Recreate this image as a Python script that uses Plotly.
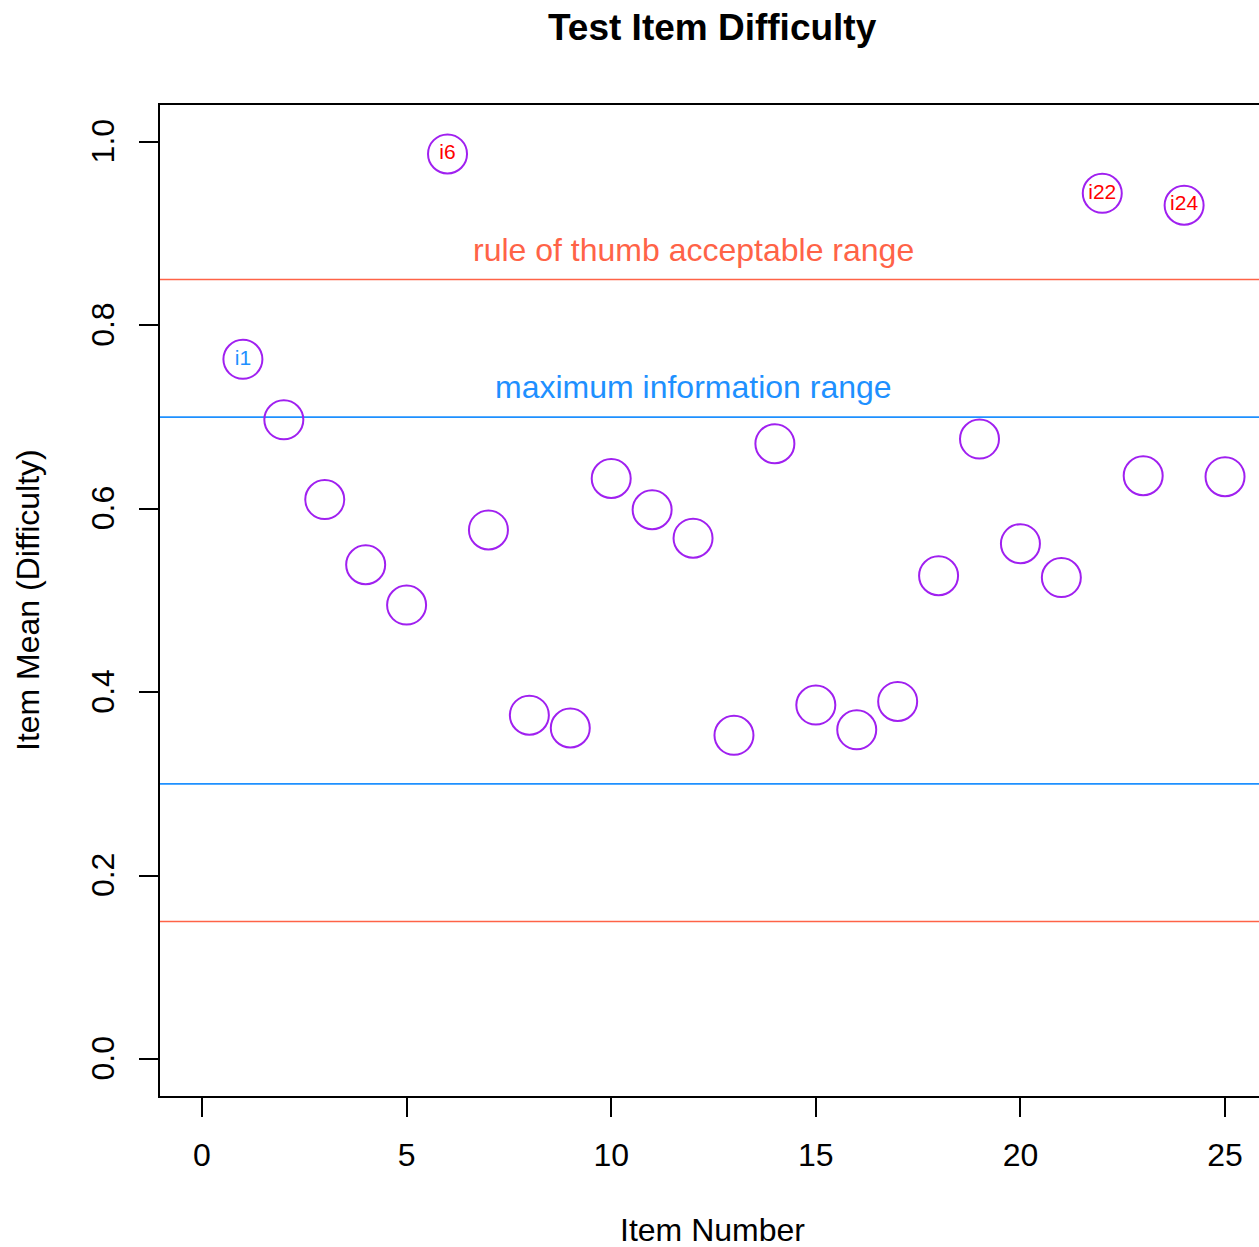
import plotly.graph_objects as go

items = list(range(1, 26))
means = [0.763, 0.697, 0.610, 0.539, 0.495, 0.987, 0.577, 0.375, 0.361, 0.633,
         0.599, 0.568, 0.353, 0.671, 0.386, 0.359, 0.390, 0.527, 0.676, 0.562,
         0.525, 0.944, 0.636, 0.931, 0.635]

label_items = [1, 6, 22, 24]
label_text = ["i1", "i6", "i22", "i24"]
label_colors = ["#1E90FF", "#FF0000", "#FF0000", "#FF0000"]
label_values = [means[i - 1] for i in label_items]

acceptable_range = [0.15, 0.85]
info_range = [0.30, 0.70]

x_ticks = [0, 5, 10, 15, 20, 25]
y_ticks = [0.0, 0.2, 0.4, 0.6, 0.8, 1.0]
y_ticktext = ["0.0", "0.2", "0.4", "0.6", "0.8", "1.0"]

FONT = "Liberation Sans, Arial, Helvetica, sans-serif"
TOMATO = "#FF6347"
DODGER = "#1E90FF"
PURPLE = "#A020F0"

fig = go.Figure()

fig.add_trace(go.Scatter(
    x=items, y=means, mode="markers",
    marker=dict(symbol="circle-open", size=39, color=PURPLE, line=dict(width=2)),
    hoverinfo="skip", showlegend=False,
))

fig.add_trace(go.Scatter(
    x=label_items, y=label_values, mode="text", text=label_text,
    textposition="middle center",
    textfont=dict(family=FONT, size=21, color=label_colors),
    hoverinfo="skip", showlegend=False,
))

for v in acceptable_range:
    fig.add_hline(y=v, line=dict(color=TOMATO, width=1.6), layer="below")
for v in info_range:
    fig.add_hline(y=v, line=dict(color=DODGER, width=1.6), layer="below")

fig.add_annotation(x=12, y=0.882, xref="x", yref="y", text="rule of thumb acceptable range",
                   showarrow=False, font=dict(family=FONT, size=32, color=TOMATO),
                   xanchor="center", yanchor="middle")
fig.add_annotation(x=12, y=0.733, xref="x", yref="y", text="maximum information range",
                   showarrow=False, font=dict(family=FONT, size=32, color=DODGER),
                   xanchor="center", yanchor="middle")

# titles
fig.add_annotation(x=0.503, y=(1096 - 28) / 991, xref="paper", yref="paper",
                   text="<b>Test Item Difficulty</b>", showarrow=False,
                   font=dict(family=FONT, size=37, color="black"),
                   xanchor="center", yanchor="middle")
fig.add_annotation(x=0.503, y=(1096 - 1230) / 991, xref="paper", yref="paper",
                   text="Item Number", showarrow=False,
                   font=dict(family=FONT, size=32, color="black"),
                   xanchor="center", yanchor="middle")
fig.add_annotation(x=(28 - 160) / 1099, y=(1096 - 600) / 991, xref="paper", yref="paper",
                   text="Item Mean (Difficulty)", showarrow=False, textangle=-90,
                   font=dict(family=FONT, size=32, color="black"),
                   xanchor="center", yanchor="middle")

fig.update_layout(
    width=1259, height=1247,
    margin=dict(l=160, r=0, t=105, b=151),
    paper_bgcolor="white", plot_bgcolor="white",
    font=dict(family=FONT, size=32, color="black"),
    xaxis=dict(range=[-1.026, 25.83], tickvals=x_ticks, ticks="outside", ticklen=19,
               tickwidth=1.5, tickcolor="black", showline=True, linecolor="black",
               linewidth=1.6, mirror=True, showgrid=False, zeroline=False,
               tickfont=dict(family=FONT, size=32, color="black"),
               ticklabelstandoff=11),
    yaxis=dict(range=[-0.0403, 1.0403], tickvals=y_ticks, ticktext=y_ticktext,
               ticks="outside", ticklen=19, tickwidth=1.5, tickcolor="black",
               showline=True, linecolor="black", linewidth=1.6, mirror=False,
               showgrid=False, zeroline=False, tickangle=-90,
               tickfont=dict(family=FONT, size=32, color="black"),
               ticklabelstandoff=12, ticklabelshift=4),
)

fig.write_html("out.html", config={"displayModeBar": False})
